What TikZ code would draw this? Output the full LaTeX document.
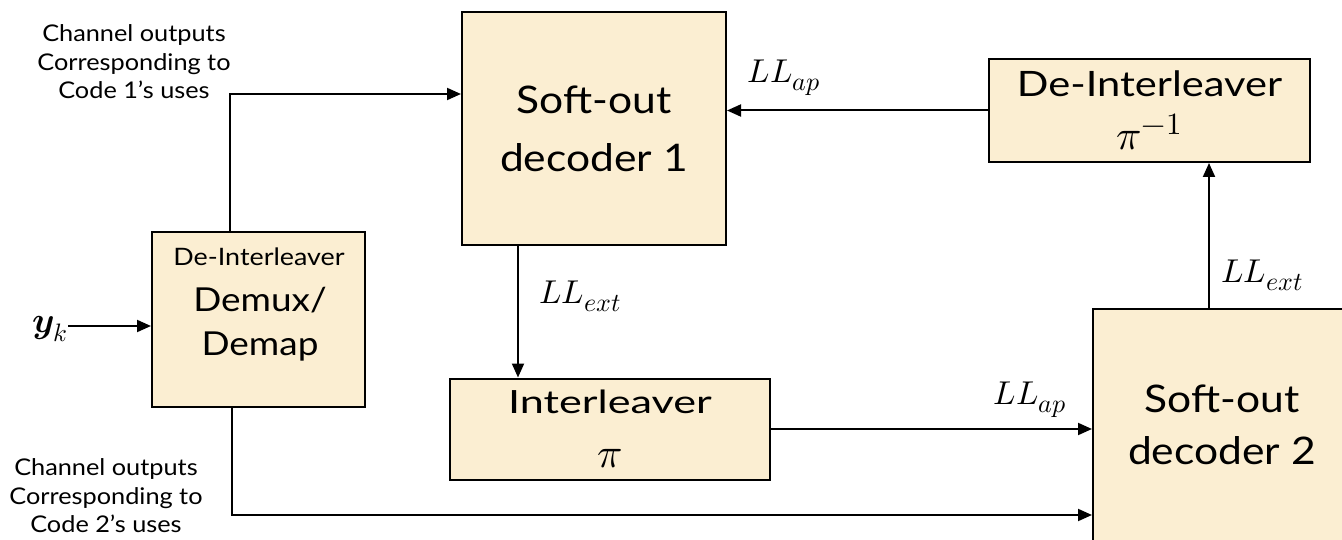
\documentclass[tikz,border=0pt]{standalone}
\usepackage{amsmath}
\usepackage{fontspec}
\usepackage{unicode-math}
\setmainfont{Lato}
\setmathfont{Latin Modern Math}
\DeclareMathSizes{33}{33}{26}{20}
\DeclareMathSizes{42}{42}{31}{24}
\newfontfamily\fA[FakeStretch=1.12]{Lato}
\newfontfamily\fB[FakeStretch=1.35]{Lato}
\newfontfamily\fC[FakeStretch=1.19]{Lato}
\newfontfamily\fD[FakeStretch=1.1]{Lato}
\usetikzlibrary{arrows.meta,calc}
\definecolor{boxfill}{RGB}{251,238,210}
\tikzset{
  blk/.style={draw=black, line width=2pt, fill=boxfill, inner sep=0pt, align=center},
  arr/.style={line width=2pt, -{Triangle[length=14pt,width=12pt]}},
  lab/.style={font=\fD\fontsize{23}{28.5}\selectfont, align=center, inner sep=0pt},
  mlab/.style={font=\fontsize{33}{36}\selectfont, inner sep=0pt},
  txt/.style={inner sep=0pt, align=center}
}
\begin{document}
\begin{tikzpicture}[x=1pt,y=-1pt]
\useasboundingbox (0,0) rectangle (1342,540);
\clip (0,0) rectangle (1342,540);
% boxes
\node[blk, minimum width=264pt, minimum height=233pt, font=\fA\fontsize{38}{58}\selectfont] (dec1) at (594,128.5) {Soft-out\\decoder 1};
\node[blk, minimum width=321pt, minimum height=103pt, font=\fC\fontsize{35}{53}\selectfont] (dint) at (1149.5,110.5) {De-Interleaver\\{\fontsize{42}{53}\selectfont$\pi^{-1}$}};
\node[blk, minimum width=213pt, minimum height=175pt] (demux) at (258.5,319.5) {};
\node[txt, font=\fA\fontsize{24}{28}\selectfont] (dm1) at (259,257) {De-Interleaver};
\node[txt, font=\fA\fontsize{33}{40}\selectfont] (dm2) at (260,300) {Demux/};
\node[txt, font=\fA\fontsize{33}{40}\selectfont] (dm3) at (260,347) {Demap};
\node[blk, minimum width=320pt, minimum height=101pt, font=\fB\fontsize{32}{54}\selectfont] (intl) at (610,429) {Interleaver\\{\fontsize{42}{54}\selectfont$\pi$}};
\node[blk, minimum width=262pt, minimum height=280pt, anchor=north west] (dec2) at (1092,308) {};
\node[txt, font=\fA\fontsize{38}{52}\selectfont] (dec2txt) at (1222,425) {Soft-out\\decoder 2};
% side labels
\node[lab] (top) at (134,62) {Channel outputs\\Corresponding to\\Code 1’s uses};
\node[lab] (bot) at (106,496) {Channel outputs\\Corresponding to\\Code 2’s uses};
\node[inner sep=0pt, anchor=east, font=\fontsize{36}{40}\selectfont] (yk) at (68,329) {$\symbfit{y}_k$};
% coordinates
\coordinate (p1) at (230,94);
\coordinate (p2) at (232,515);
\coordinate (p3) at (518,0);
\coordinate (p5) at (1209,0);
% connectors
\draw[arr] (yk.east |- 0,326) -- (demux.west |- 0,326);
\draw[arr] (p1 |- demux.north) -- (p1) -- (p1 -| dec1.west);
\draw[arr] (p2 |- demux.south) -- (p2) -- (p2 -| dec2.west);
\draw[arr] (p3 |- dec1.south) -- (p3 |- intl.north);
\draw[arr] (intl.east) -- (intl.east -| dec2.west);
\draw[arr] (p5 |- dec2.north) -- (p5 |- dint.south);
\draw[arr] (dint.west) -- (dint.west -| dec1.east);
% math labels
\node[mlab] (l1) at (784,78) {$LL_{ap}$};
\node[mlab] (l2) at (580,296) {$LL_{ext}$};
\node[mlab] (l3) at (1030,400) {$LL_{ap}$};
\node[mlab] (l4) at (1262,275) {$LL_{ext}$};
\end{tikzpicture}
\end{document}
